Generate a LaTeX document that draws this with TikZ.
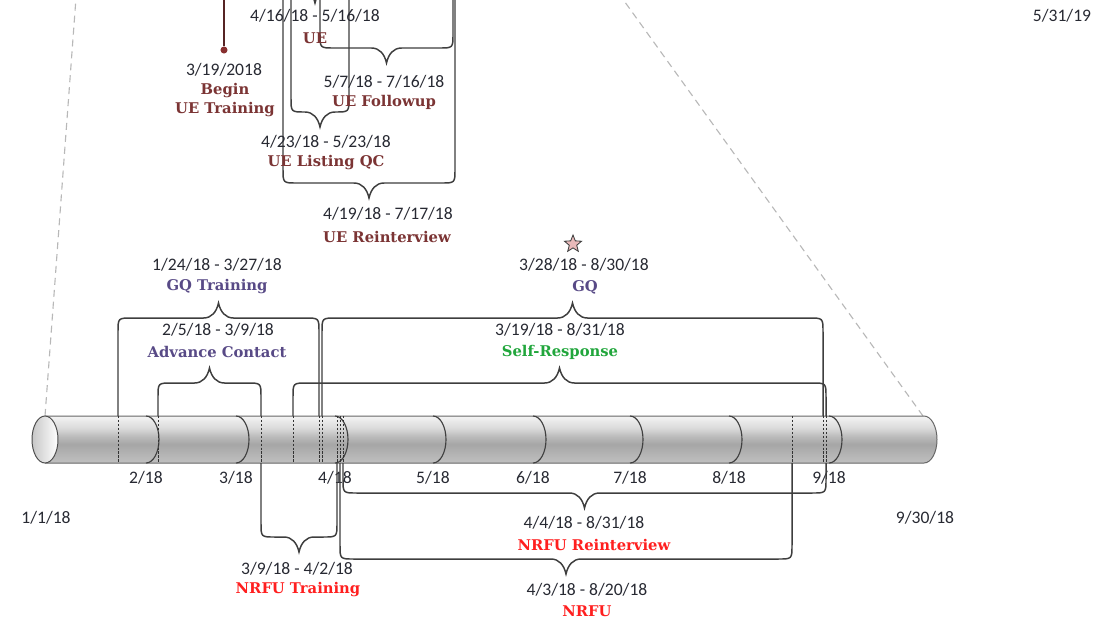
\documentclass[tikz,border=0pt]{standalone}
\usepackage{fontspec}
\setmainfont{Carlito}
\newfontfamily\namefont{DejaVu Serif}
\usetikzlibrary{shapes.geometric}

\definecolor{datetext}{HTML}{272932}
\definecolor{uebrown}{HTML}{7B3434}
\definecolor{gqslate}{HTML}{584A86}
\definecolor{srgreen}{HTML}{21A63C}
\definecolor{nrfured}{HTML}{FF1F1F}
\definecolor{bracegray}{HTML}{3E3E3E}
\definecolor{starpink}{HTML}{E9B9B9}
\definecolor{tubetop}{HTML}{F4F4F4}
\definecolor{tubeupper}{HTML}{DADADA}
\definecolor{tubemid}{HTML}{BABABA}
\definecolor{tubedark}{HTML}{A6A6A6}
\definecolor{tubelow}{HTML}{C0C0C0}

\pgfdeclareverticalshading{tubeshade}{100bp}{color(0bp)=(tubelow); color(25bp)=(tubelow);
  color(45bp)=(tubedark); color(53bp)=(tubemid); color(62bp)=(tubeupper);
  color(75bp)=(tubetop); color(100bp)=(tubetop)}

% brace between two dates: left x, right x, leg end y, bar y, tip (1 down, -1 up)
\newcommand{\spanbrace}[5]{%
  \draw[spanline] (#1,#3) -- (#1,{#4-(#5)*14})
    .. controls (#1,#4) .. ({#1+14},#4)
    -- ({(#1+#2)/2-15},#4)
    .. controls ({(#1+#2)/2-7},#4) and ({(#1+#2)/2-2},{#4+(#5)*6}) .. ({(#1+#2)/2},{#4+(#5)*15})
    .. controls ({(#1+#2)/2+2},{#4+(#5)*6}) and ({(#1+#2)/2+7},#4) .. ({(#1+#2)/2+15},#4)
    -- ({#2-14},#4) .. controls (#2,#4) .. (#2,{#4-(#5)*14}) -- (#2,#3);
}

\begin{document}
\begin{tikzpicture}[x=0.025cm,y=-0.025cm,
    spanline/.style={bracegray,line width=1.05pt},
    markline/.style={black!80,line width=0.6pt,dash pattern=on 1.6pt off 1.2pt},
    zoomline/.style={black!28,line width=0.8pt,dash pattern=on 5pt off 3.5pt},
    monthline/.style={black!75,line width=0.8pt},
    datelbl/.style={font=\fontsize{12.5}{14}\selectfont,text=datetext,inner sep=0pt},
    namelbl/.style={font=\namefont\bfseries\fontsize{10.5}{12}\selectfont,inner sep=0pt},
    uename/.style={namelbl,text=uebrown},
    gqname/.style={namelbl,text=gqslate},
    srname/.style={namelbl,text=srgreen},
    nrname/.style={namelbl,text=nrfured}]
  \useasboundingbox (0,0) rectangle (1097,621);
  \clip (0,0) rectangle (1097,621);

  % zoom guides to the long timeline
  \coordinate (zoomtl) at (76,-2);
  \coordinate (zoomtr) at (622,-2);
  \coordinate (tubetl) at (45,416);
  \coordinate (tubetr) at (923,416);
  \draw[zoomline] (tubetl) -- (zoomtl);
  \draw[zoomline] (tubetr) -- (zoomtr);

  % the tube
  \shade[shading=tubeshade] (45,416) -- (924,416)
    arc[start angle=-90,end angle=90,x radius=13,y radius=23.5] -- (45,463) -- cycle;
  \draw[black!60,line width=0.7pt] (45,416) -- (924,416)
    arc[start angle=-90,end angle=90,x radius=13,y radius=23.5] -- (45,463);
  \shade[left color=black!22,right color=white,draw=black!70,line width=0.7pt]
    (45,439.5) ellipse[x radius=13,y radius=23.5];
  \foreach \mx/\mm in {146/2,236/3,335/4,433/5,533/6,630/7,729/8,829/9}{
    \draw[monthline] (\mx,416) arc[start angle=-90,end angle=90,x radius=13,y radius=23.5];
    \node[datelbl] (m\mm) at (\mx,478) {\mm/18};
  }
  \foreach \dx in {118,158,261,293,319,322,337,340,343,792,823,826}
    \draw[markline] (\dx,416) -- (\dx,463);

  % UE, hanging from the long timeline
  \spanbrace{285}{345}{-30}{-12}{1}
  \spanbrace{320}{453}{-30}{48}{1}
  \spanbrace{291}{349}{-30}{112}{1}
  \spanbrace{283}{455}{-30}{183}{1}
  % above the tube
  \spanbrace{118}{319}{416}{318}{-1}
  \spanbrace{322}{823}{416}{318}{-1}
  \spanbrace{158}{261}{416}{383}{-1}
  \spanbrace{293}{826}{416}{383}{-1}
  % below the tube
  \spanbrace{261}{337}{463}{537}{1}
  \spanbrace{343}{826}{463}{493}{1}
  \spanbrace{340}{792}{463}{559}{1}

  % begin of UE training
  \coordinate (uetop) at (224,-5);
  \node[circle,fill=uebrown!90!red,inner sep=0pt,minimum size=5pt] (uebegin) at (224,50) {};
  \draw[uebrown!70!black,line width=0.8pt] (uetop) -- (uebegin);
  \node[datelbl] (uebegdate) at (224,70) {3/19/2018};
  \node[uename] (uebegname) at (225,91) {Begin};
  \node[uename] (uebegname2) at (225,110) {UE Training};

  \node[datelbl] (uedate) at (315,16) {4/16/18 - 5/16/18};
  \node[uename] (uename) at (315,38) {UE};
  \node[datelbl] (uefudate) at (384,82) {5/7/18 - 7/16/18};
  \node[uename] (uefuname) at (384,102) {UE Followup};
  \node[datelbl] (ueqcdate) at (326,142) {4/23/18 - 5/23/18};
  \node[uename] (ueqcname) at (326,163) {UE Listing QC};
  \node[datelbl] (uerdate) at (388,214) {4/19/18 - 7/17/18};
  \node[uename] (uername) at (387,237) {UE Reinterview};

  \node[datelbl] (gqtrdate) at (217,265) {1/24/18 - 3/27/18};
  \node[gqname] (gqtrname) at (217,287) {GQ Training};
  \node[star,star points=5,star point ratio=2.3,draw=black!75,fill=starpink,
        line width=0.6pt,inner sep=0pt,minimum size=0.45cm] (gqstar) at (573,244) {};
  \node[datelbl] (gqdate) at (584,265) {3/28/18 - 8/30/18};
  \node[gqname] (gqname) at (585,287) {GQ};
  \node[datelbl] (acdate) at (218,330) {2/5/18 - 3/9/18};
  \node[gqname] (acname) at (217,352) {Advance Contact};
  \node[datelbl] (srdate) at (560,330) {3/19/18 - 8/31/18};
  \node[srname] (srname) at (560,352) {Self-Response};

  \node[datelbl] (nrtrdate) at (297,569) {3/9/18 - 4/2/18};
  \node[nrname] (nrtrname) at (298,590) {NRFU Training};
  \node[datelbl] (nrridate) at (584,523) {4/4/18 - 8/31/18};
  \node[nrname] (nrriname) at (594,545) {NRFU Reinterview};
  \node[datelbl] (nrdate) at (587,590) {4/3/18 - 8/20/18};
  \node[nrname] (nrname) at (587,611) {NRFU};

  \node[datelbl] (startdate) at (46,518) {1/1/18};
  \node[datelbl] (enddate) at (925,518) {9/30/18};
  \node[datelbl] (farend) at (1062,16) {5/31/19};
\end{tikzpicture}
\end{document}
